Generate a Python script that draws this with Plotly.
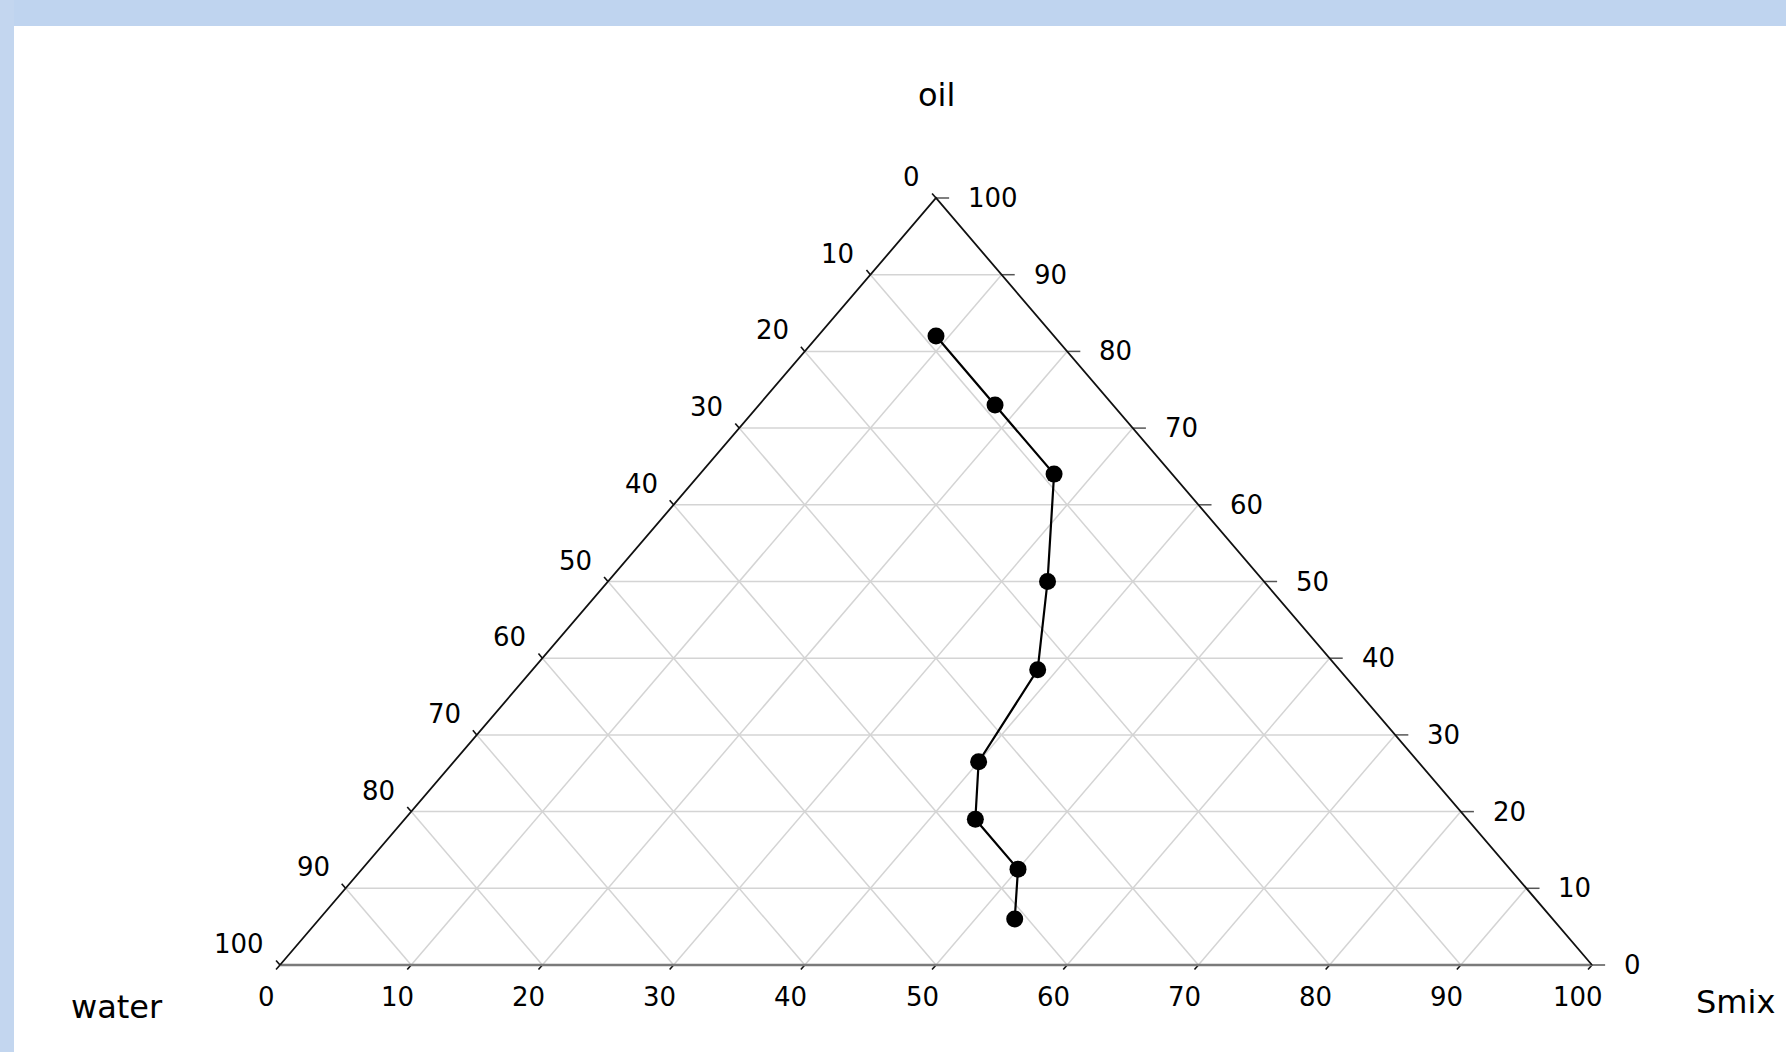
import plotly.graph_objects as go

# Phase-boundary compositions (percent) of the pseudo-ternary system
oil = [82, 73, 64, 50, 38.5, 26.5, 19, 12.5, 6]
smix = [9, 18, 27, 33.5, 38.5, 40, 43.5, 50, 53]
water = [9, 9, 9, 16.5, 23, 33.5, 37.5, 37.5, 41]

tick_values = [0, 10, 20, 30, 40, 50, 60, 70, 80, 90, 100]
grid_values = [10, 20, 30, 40, 50, 60, 70, 80, 90]

# Figure geometry (pixels)
W, H = 1786, 1052
LEFT_PX, RIGHT_PX, BASE_PX, APEX_PX = 280, 1592, 965, 198
SX = (RIGHT_PX - LEFT_PX) / 100.0
SY = (BASE_PX - APEX_PX) / 100.0

FONT = "DejaVu Sans"


def to_xy(o, s):
    """Ternary (oil, Smix) -> plane coordinates; oil at the top, Smix at bottom-right."""
    return s + o / 2.0, o


def segs(pairs):
    xs, ys = [], []
    for (x0, y0), (x1, y1) in pairs:
        xs += [x0, x1, None]
        ys += [y0, y1, None]
    return xs, ys


fig = go.Figure()

# Grid lines
grid = []
for g in grid_values:
    # constant oil (horizontal)
    grid.append((to_xy(g, 0), to_xy(g, 100 - g)))
    # constant water (parallel to right edge)
    grid.append((to_xy(100 - g, 0), to_xy(0, 100 - g)))
    # constant Smix (parallel to left edge)
    grid.append((to_xy(0, g), to_xy(100 - g, g)))
gx, gy = segs(grid)
fig.add_trace(go.Scatter(x=gx, y=gy, mode="lines",
                         line=dict(color="#d4d4d4", width=1.5),
                         hoverinfo="skip", showlegend=False))

# Oil ticks on the right edge (horizontal, outward)
oil_ticks = []
for t in tick_values:
    x, y = to_xy(t, 100 - t)
    oil_ticks.append(((x, y), (x + 1.0, y)))
tx, ty = segs(oil_ticks)
fig.add_trace(go.Scatter(x=tx, y=ty, mode="lines",
                         line=dict(color="#555555", width=1.5),
                         hoverinfo="skip", showlegend=False))

# Water ticks on the left edge and Smix ticks on the bottom edge
k = 0.6
small = []
for t in tick_values:
    x, y = to_xy(100 - t, 0)
    small.append(((x, y), (x - 0.5 * k, y + k)))
    x, y = to_xy(0, t)
    small.append(((x, y), (x - 0.5 * k, y - k)))
sx_, sy_ = segs(small)
fig.add_trace(go.Scatter(x=sx_, y=sy_, mode="lines",
                         line=dict(color="#111111", width=1.6),
                         hoverinfo="skip", showlegend=False))

# Triangle edges
A = to_xy(100, 0)
B = to_xy(0, 0)
C = to_xy(0, 100)
fig.add_trace(go.Scatter(x=[B[0], C[0]], y=[B[1], C[1]], mode="lines",
                         line=dict(color="#7a7a7a", width=2.5),
                         hoverinfo="skip", showlegend=False))
fig.add_trace(go.Scatter(x=[B[0], A[0], C[0]], y=[B[1], A[1], C[1]], mode="lines",
                         line=dict(color="#111111", width=1.8),
                         hoverinfo="skip", showlegend=False))

# Boundary curve
px = [to_xy(o, s)[0] for o, s in zip(oil, smix)]
py = [to_xy(o, s)[1] for o, s in zip(oil, smix)]
fig.add_trace(go.Scatter(
    x=px, y=py, mode="lines+markers",
    line=dict(color="black", width=2.2),
    marker=dict(color="black", size=17, symbol="circle"),
    customdata=list(zip(oil, water, smix)),
    hovertemplate="oil %{customdata[0]}<br>water %{customdata[1]}<br>Smix %{customdata[2]}<extra></extra>",
    showlegend=False, cliponaxis=False))

annotations = []
tick_font = dict(family=FONT, size=26, color="#000000")
for t in tick_values:
    # oil labels (right edge)
    x, y = to_xy(t, 100 - t)
    annotations.append(dict(x=x, y=y, text=str(t), showarrow=False,
                            xanchor="left", yanchor="middle", xshift=30,
                            font=tick_font))
    # water labels (left edge)
    x, y = to_xy(100 - t, 0)
    annotations.append(dict(x=x, y=y, text=str(t), showarrow=False,
                            xanchor="right", yanchor="middle",
                            xshift=-14, yshift=21, font=tick_font))
    # Smix labels (bottom edge)
    x, y = to_xy(0, t)
    annotations.append(dict(x=x, y=y, text=str(t), showarrow=False,
                            xanchor="center", yanchor="middle",
                            xshift=-14, yshift=-32, font=tick_font))

title_font = dict(family=FONT, size=32, color="#000000")
annotations.append(dict(x=A[0], y=A[1], text="oil", showarrow=False,
                        xanchor="center", yanchor="middle", yshift=103,
                        font=title_font))
annotations.append(dict(x=B[0], y=B[1], text="water", showarrow=False,
                        xanchor="center", yanchor="middle",
                        xshift=-163, yshift=-42, font=title_font))
annotations.append(dict(x=C[0], y=C[1], text="Smix", showarrow=False,
                        xanchor="center", yanchor="middle",
                        xshift=143, yshift=-37, font=title_font))

# Light blue frame along the top and left edges
shapes = [
    dict(type="rect", xref="paper", yref="paper", x0=0, x1=1,
         y0=1 - 26 / H, y1=1, fillcolor="#bfd4ef", line=dict(width=0),
         layer="below"),
    dict(type="rect", xref="paper", yref="paper", x0=0, x1=14 / W,
         y0=0, y1=1, fillcolor="#c3d6ef", line=dict(width=0),
         layer="below"),
]

fig.update_layout(
    width=W, height=H,
    margin=dict(l=0, r=0, t=0, b=0),
    paper_bgcolor="white", plot_bgcolor="white",
    xaxis=dict(range=[-LEFT_PX / SX, (W - LEFT_PX) / SX], visible=False,
               fixedrange=True),
    yaxis=dict(range=[(BASE_PX - H) / SY, BASE_PX / SY], visible=False,
               fixedrange=True),
    annotations=annotations,
    shapes=shapes,
    showlegend=False,
)

fig.write_html("out.html")
